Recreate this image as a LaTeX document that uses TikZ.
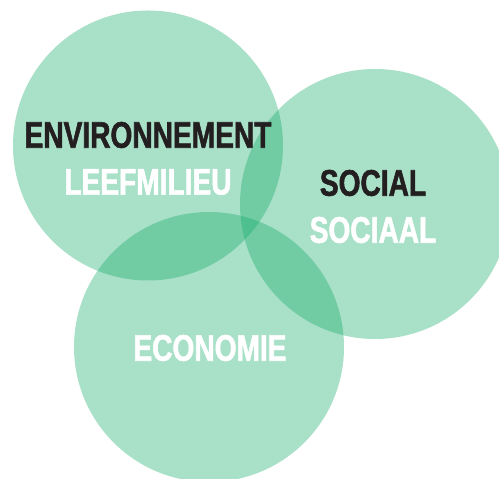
\documentclass[tikz,border=0pt]{standalone}
\usepackage{fontspec}
\newfontfamily\condfont[FakeStretch=0.76, BoldFeatures={FakeBold=1.5}]{Liberation Sans}
\usetikzlibrary{calc,positioning}
\definecolor{venngreen}{RGB}{16,169,102}
\definecolor{inkblack}{RGB}{35,31,32}

\begin{document}
\begin{tikzpicture}[x=1pt, y=1pt]
    \tikzset{bubble/.style = {circle,
        minimum size = 270pt,
        inner sep    = 0pt,
        fill         = venngreen,
        fill opacity = 0.36},
      label/.style = {inner sep=0pt,
        font = \condfont\bfseries\fontsize{37}{37}\selectfont},
      darklabel/.style  = {label, text=inkblack},
      lightlabel/.style = {label, text=white}}
    \clip (0,0) rectangle (499,479);
    \node[bubble] (env) at (148,333.5) {};
    \node[bubble] (soc) at (375,275) {};
    \node[bubble] (eco) at (209,132) {};
    \node[darklabel]  (envfr) at ($(env) + (0,10.5)$)  {ENVIRONNEMENT};
    \node[lightlabel] (envnl) at ($(env) - (0,36.5)$)  {LEEFMILIEU};
    \node[darklabel]  (socfr) at ($(soc) + (-2,21)$)   {SOCIAL};
    \node[lightlabel] (socnl) at ($(soc) - (2,26)$)    {SOCIAAL};
    \node[lightlabel] (econl) at ($(eco) + (1,-1)$)    {ECONOMIE};
  \end{tikzpicture}
\end{document}
